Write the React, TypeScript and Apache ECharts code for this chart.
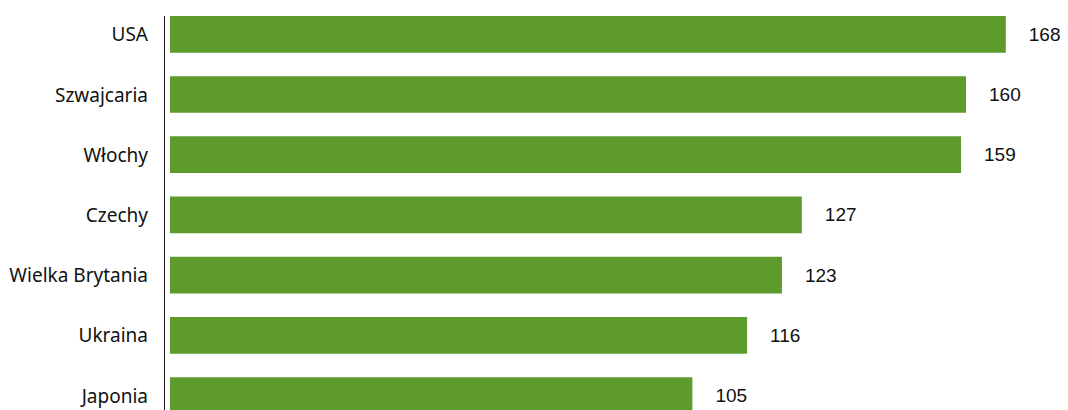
import React, { useEffect, useRef } from "react";
import * as echarts from "echarts";

const categories = ["USA", "Szwajcaria", "Włochy", "Czechy", "Wielka Brytania", "Ukraina", "Japonia"];
const values = [168, 160, 159, 127, 123, 116, 105];

export default function App() {
  const ref = useRef<HTMLDivElement>(null);
  useEffect(() => {
    if (!ref.current) return;
    const chart = echarts.init(ref.current, undefined, { renderer: "svg" });
    chart.setOption({
      animation: false,
      grid: { left: 170, right: 2.5, top: 4.2, bottom: 4.4, containLabel: false },
      xAxis: { type: "value", min: 0, max: 180, show: false },
      yAxis: {
        type: "category",
        inverse: true,
        data: categories,
        axisLine: { show: false },
        axisTick: { show: false },
        axisLabel: {
          margin: 22,
          fontSize: 19,
          color: "#111111",
          fontFamily: "Noto Sans",
        },
      },
      graphic: [
        {
          type: "line",
          shape: { x1: 164.5, y1: 16, x2: 164.5, y2: 430 },
          style: { stroke: "#1a1a1a", lineWidth: 1 },
          silent: true,
        },
      ],
      series: [
        {
          type: "bar",
          data: values,
          barWidth: 36.7,
          itemStyle: { color: "#5d9c2c" },
          label: {
            show: true,
            position: "right",
            distance: 23,
            fontSize: 19,
            color: "#111111",
            fontFamily: "Liberation Sans",
          },
        },
      ],
    });
    return () => chart.dispose();
  }, []);
  return (
    <div style={{ position: "absolute", left: 0, top: 0, width: 1068, height: 410, overflow: "hidden" }}>
      <div ref={ref} style={{ width: 1068, height: 430 }} />
    </div>
  );
}
